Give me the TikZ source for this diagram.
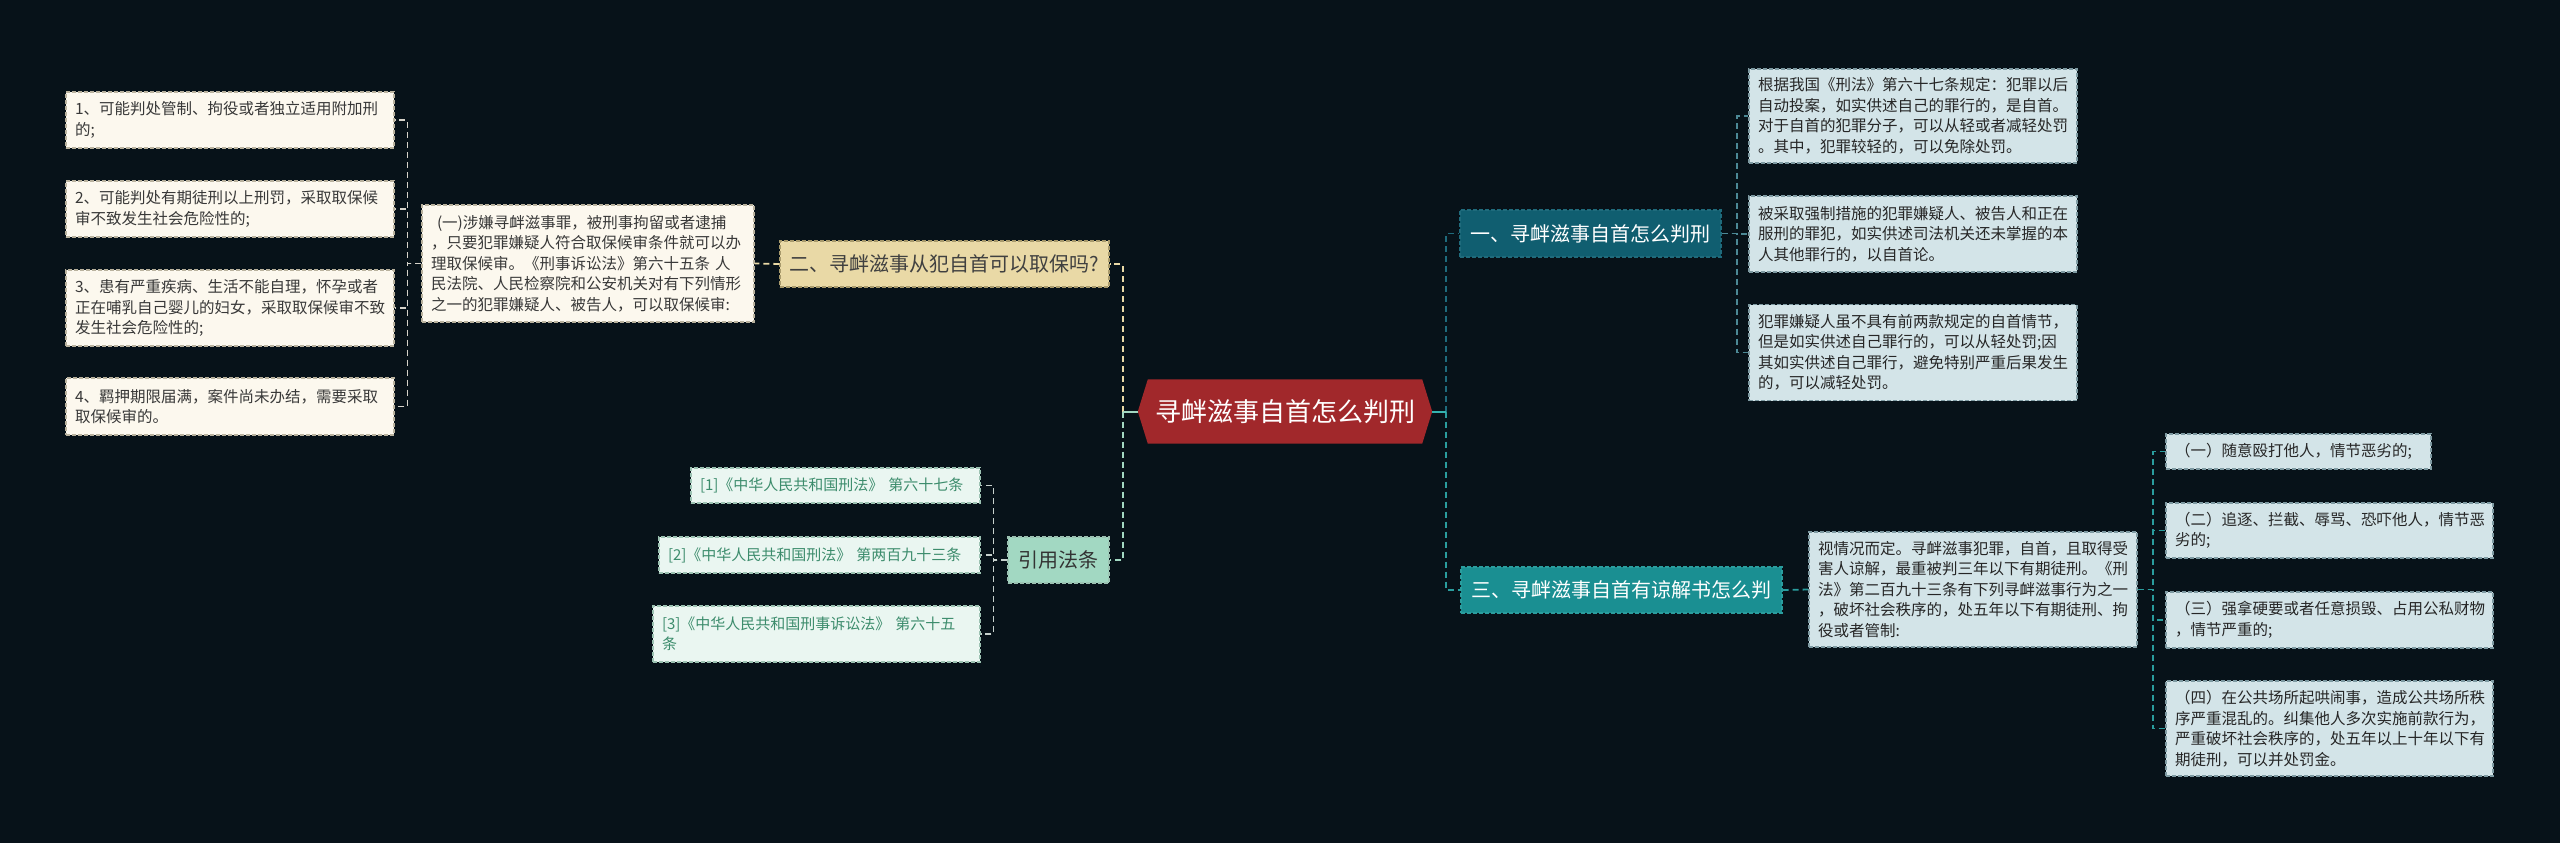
\documentclass[tikz,border=0pt]{standalone}
\usepackage{fontspec}
\setmainfont{Noto Sans CJK SC}
\usetikzlibrary{backgrounds,calc}
\definecolor{bgc}{HTML}{071219}
\definecolor{cred}{HTML}{A1282B}
\definecolor{cream}{HTML}{FCF8EE}
\definecolor{creamln}{HTML}{B9B29E}
\definecolor{tan}{HTML}{E9D9A6}
\definecolor{tanln}{HTML}{A89A6C}
\definecolor{mintl}{HTML}{EAF6F1}
\definecolor{mintln}{HTML}{9CC2B2}
\definecolor{mint}{HTML}{A2D8C2}
\definecolor{citetx}{HTML}{3C8C6C}
\definecolor{bluel}{HTML}{D3E4E8}
\definecolor{blueln}{HTML}{7E9AA2}
\definecolor{tealdk}{HTML}{105E70}
\definecolor{tealmd}{HTML}{1A8F92}
\definecolor{lnteal1}{HTML}{1F6B7C}
\definecolor{lnteal3}{HTML}{2A9D9E}
\definecolor{stubteal}{HTML}{35B3B0}
\tikzset{
  bx/.style={draw, dash pattern=on 4pt off 2pt, line width=1.2pt, inner sep=0pt, align=left,
    font=\fontsize{15.5}{20.5}\selectfont},
  leftitem/.style={bx, fill=cream, draw=creamln, text=black!78},
  citebox/.style={bx, fill=mintl, draw=mintln, text=citetx, font=\fontsize{15}{20}\selectfont},
  rightitem/.style={bx, fill=bluel, draw=blueln, text=black!85},
  branch/.style={draw, dash pattern=on 4pt off 2pt, line width=1.2pt, inner sep=0pt, align=center,
    font=\fontsize{20}{24}\selectfont},
  conn/.style={dash pattern=on 6pt off 4pt, line width=1.8pt},
  stub/.style={line width=2pt}
}
\begin{document}
\begin{tikzpicture}[x=1pt,y=-1pt]
\begin{scope}[on background layer]
\fill[bgc] (0,0) rectangle (2560,843);
\end{scope}
\useasboundingbox (0,0) rectangle (2560,843);

% center
\node[minimum width=294pt, minimum height=64pt, inner sep=0pt, text=white,
  font=\fontsize{26}{30}\selectfont] (c) at (1285,411.5) {寻衅滋事自首怎么判刑};
\begin{scope}[on background layer]
\fill[cred] (c.west) -- ($(c.north west)+(10,0)$) -- ($(c.north east)+(-10,0)$) -- (c.east)
  -- ($(c.south east)+(-10,0)$) -- ($(c.south west)+(10,0)$) -- cycle;
\end{scope}

% left branch 二
\node[branch, fill=tan, draw=tanln, text=black!75, minimum width=329pt, minimum height=46pt] (b2) at (944.5,264) {二、寻衅滋事从犯自首可以取保吗?};
\node[leftitem, minimum width=332pt, minimum height=117pt, text width=314pt] (p1) at (588,263.5)
 {\hspace{6pt}(一)涉嫌寻衅滋事罪，被刑事拘留或者逮捕\\，只要犯罪嫌疑人符合取保候审条件就可以办\\理取保候审。《刑事诉讼法》第六十五条 人\\民法院、人民检察院和公安机关对有下列情形\\之一的犯罪嫌疑人、被告人，可以取保候审:};
\node[leftitem, minimum width=328pt, minimum height=56pt, text width=310pt] (i1) at (230,120)
 {1、可能判处管制、拘役或者独立适用附加刑\\的;};
\node[leftitem, minimum width=328pt, minimum height=56pt, text width=310pt] (i2) at (230,209)
 {2、可能判处有期徒刑以上刑罚，采取取保候\\审不致发生社会危险性的;};
\node[leftitem, minimum width=328pt, minimum height=76pt, text width=310pt] (i3) at (230,308)
 {3、患有严重疾病、生活不能自理，怀孕或者\\正在哺乳自己婴儿的妇女，采取取保候审不致\\发生社会危险性的;};
\node[leftitem, minimum width=328pt, minimum height=57pt, text width=310pt] (i4) at (230,406.5)
 {4、羁押期限届满，案件尚未办结，需要采取\\取保候审的。};

% 引用法条
\node[branch, fill=mint, draw=mintln, text=black!80, minimum width=101pt, minimum height=46pt] (cite) at (1058.5,560) {引用法条};
\node[citebox, minimum width=289pt, minimum height=35pt, text width=271pt] (r1) at (835.5,485.5)
 {[1]《中华人民共和国刑法》 第六十七条};
\node[citebox, minimum width=321pt, minimum height=36pt, text width=303pt] (r2) at (819.5,555)
 {[2]《中华人民共和国刑法》 第两百九十三条};
\node[citebox, minimum width=327pt, minimum height=56pt, text width=309pt] (r3) at (816.5,634)
 {[3]《中华人民共和国刑事诉讼法》 第六十五\\条};

% right branch 一
\node[branch, fill=tealdk, draw=lnteal1, text=white, minimum width=261pt, minimum height=47pt] (a1) at (1590.5,233.5) {一、寻衅滋事自首怎么判刑};
\node[rightitem, minimum width=328pt, minimum height=94pt, text width=310pt] (A) at (1913,116)
 {根据我国《刑法》第六十七条规定：犯罪以后\\自动投案，如实供述自己的罪行的，是自首。\\对于自首的犯罪分子，可以从轻或者减轻处罚\\。其中，犯罪较轻的，可以免除处罚。};
\node[rightitem, minimum width=328pt, minimum height=76pt, text width=310pt] (B) at (1913,234)
 {被采取强制措施的犯罪嫌疑人、被告人和正在\\服刑的罪犯，如实供述司法机关还未掌握的本\\人其他罪行的，以自首论。};
\node[rightitem, minimum width=328pt, minimum height=96pt, text width=310pt] (C) at (1913,352.5)
 {犯罪嫌疑人虽不具有前两款规定的自首情节，\\但是如实供述自己罪行的，可以从轻处罚;因\\其如实供述自己罪行，避免特别严重后果发生\\的，可以减轻处罚。};

% right branch 三
\node[branch, fill=tealmd, draw=lnteal3, text=white, minimum width=321pt, minimum height=46pt] (a3) at (1621.5,590) {三、寻衅滋事自首有谅解书怎么判};
\node[rightitem, minimum width=328pt, minimum height=115pt, text width=310pt] (p3) at (1973,589.5)
 {视情况而定。寻衅滋事犯罪，自首，且取得受\\害人谅解，最重被判三年以下有期徒刑。《刑\\法》第二百九十三条有下列寻衅滋事行为之一\\，破坏社会秩序的，处五年以下有期徒刑、拘\\役或者管制:};
\node[rightitem, minimum width=265pt, minimum height=35pt, text width=247pt] (q1) at (2298.5,451.5)
 {（一）随意殴打他人，情节恶劣的;};
\node[rightitem, minimum width=327pt, minimum height=55pt, text width=309pt] (q2) at (2329.5,530.5)
 {（二）追逐、拦截、辱骂、恐吓他人，情节恶\\劣的;};
\node[rightitem, minimum width=327pt, minimum height=56pt, text width=309pt] (q3) at (2329.5,620)
 {（三）强拿硬要或者任意损毁、占用公私财物\\，情节严重的;};
\node[rightitem, minimum width=327pt, minimum height=95pt, text width=309pt] (q4) at (2329.5,728.5)
 {（四）在公共场所起哄闹事，造成公共场所秩\\序严重混乱的。纠集他人多次实施前款行为，\\严重破坏社会秩序的，处五年以上十年以下有\\期徒刑，可以并处罚金。};

% ---- connectors ----
% center left
\draw[conn, tan] ($(c.west)+(-15,0)$) |- (b2.east);
\draw[conn, mint] ($(c.west)+(-15,0)$) |- (cite.east);
\draw[stub, mint] (c.west) -- ++(-15,0);
\draw[conn, tan] (b2.west) -- (p1.east);
\foreach \t in {i1,i2,i3,i4}
  \draw[conn, cream!85!black] (p1.west) -- ++(-14,0) |- (\t.east);
\foreach \t in {r1,r2,r3}
  \draw[conn, mintl!85!black] (cite.west) -- ++(-14,0) |- (\t.east);
% center right
\draw[conn, lnteal1] ($(c.east)+(14,0)$) |- (a1.west);
\draw[conn, lnteal3] ($(c.east)+(14,0)$) |- (a3.west);
\draw[stub, stubteal] (c.east) -- ++(14,0);
\foreach \t in {A,B,C}
  \draw[conn, lnteal1!80!white] (a1.east) -- ++(15,0) |- (\t.west);
\draw[conn, lnteal3] (a3.east) -- (p3.west);
\foreach \t in {q1,q2,q3,q4}
  \draw[conn, lnteal3] (p3.east) -- ++(15,0) |- (\t.west);
\end{tikzpicture}
\end{document}
